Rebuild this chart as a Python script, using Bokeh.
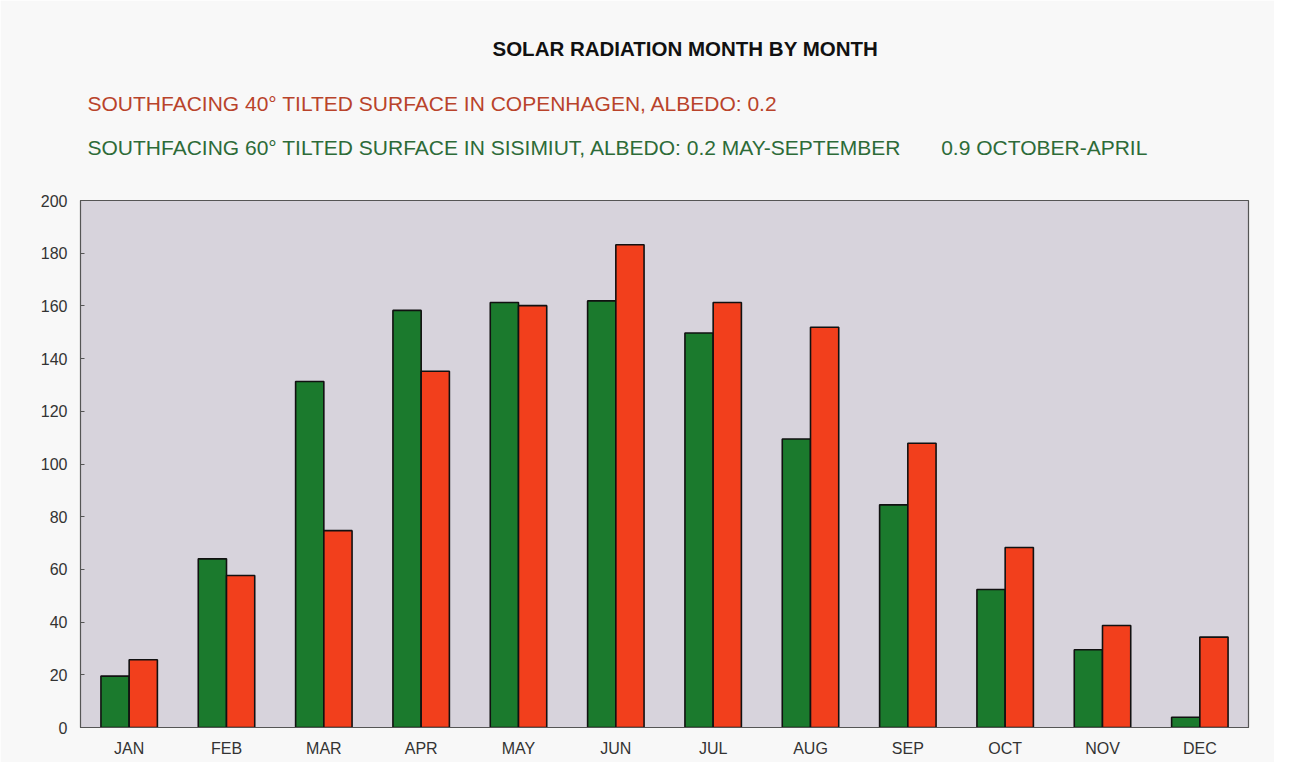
from bokeh.plotting import figure
from bokeh.models import ColumnDataSource, Title, FactorRange, SingleIntervalTicker
from bokeh.transform import dodge
from bokeh.embed import file_html
from bokeh.resources import INLINE

months = ["JAN", "FEB", "MAR", "APR", "MAY", "JUN", "JUL", "AUG", "SEP", "OCT", "NOV", "DEC"]
sisimiut = [19.5, 64.0, 131.3, 158.3, 161.3, 161.9, 149.7, 109.5, 84.5, 52.4, 29.5, 3.9]
copenhagen = [25.7, 57.7, 74.7, 135.2, 160.1, 183.2, 161.3, 151.9, 107.9, 68.3, 38.7, 34.3]

title_text = "SOLAR RADIATION MONTH BY MONTH"
sub1_text = "SOUTHFACING 40\u00b0 TILTED SURFACE IN COPENHAGEN, ALBEDO: 0.2"
sub2_text = "SOUTHFACING 60\u00b0 TILTED SURFACE IN SISIMIUT, ALBEDO: 0.2 MAY-SEPTEMBER"
sub3_text = "0.9 OCTOBER-APRIL"

FONT = "Liberation Sans"

source = ColumnDataSource(data=dict(month=months, sis=sisimiut, cph=copenhagen))

p = figure(
    x_range=FactorRange(*months, range_padding=0),
    y_range=(0, 200),
    width=1274, height=762,
    output_backend="svg", toolbar_location=None,
    min_border_left=80, min_border_right=26, min_border_top=200, min_border_bottom=35,
)
p.title.visible = False
p.background_fill_color = "#d7d3dc"
p.border_fill_color = "#f8f8f8"
p.outline_line_color = "#555555"
p.outline_line_width = 1.2
p.xgrid.grid_line_color = None
p.ygrid.grid_line_color = None

p.vbar(x=dodge("month", -0.145, range=p.x_range), top="sis", width=0.29, source=source,
       fill_color="#1b7a2d", line_color="#111111", line_width=1.6)
p.vbar(x=dodge("month", 0.145, range=p.x_range), top="cph", width=0.29, source=source,
       fill_color="#f23f1c", line_color="#111111", line_width=1.6)

p.yaxis.ticker = SingleIntervalTicker(interval=20)
p.yaxis.minor_tick_line_color = None
p.yaxis.major_tick_in = 4
p.yaxis.major_tick_out = 0
p.yaxis.major_tick_line_color = "#555555"
p.yaxis.axis_line_color = "#555555"
p.yaxis.major_label_text_font = FONT
p.yaxis.major_label_text_font_size = "16px"
p.yaxis.major_label_text_color = "#333333"
p.yaxis.major_label_standoff = 9

p.xaxis.major_tick_line_color = None
p.xaxis.major_tick_in = 0
p.xaxis.major_tick_out = 0
p.xaxis.minor_tick_line_color = None
p.xaxis.axis_line_color = "#555555"
p.xaxis.major_label_text_font = FONT
p.xaxis.major_label_text_font_size = "16px"
p.xaxis.major_label_text_color = "#333333"
p.xaxis.major_label_standoff = 12

gap = "\u00a0" * 7
# stacked from the frame outwards: spacer, second subtitle, first subtitle, main title
p.add_layout(Title(text=" ", align="left", offset=0, standoff=24,
                   text_font=FONT, text_font_size="10px", text_color="#f8f8f8"), "above")
p.add_layout(Title(text=sub2_text + gap + sub3_text, align="left", offset=7, standoff=10,
                   text_font=FONT, text_font_size="21px", text_font_style="normal",
                   text_color="#2d6b38"), "above")
p.add_layout(Title(text=sub1_text, align="left", offset=7, standoff=27,
                   text_font=FONT, text_font_size="21px", text_font_style="normal",
                   text_color="#b9432b"), "above")
p.add_layout(Title(text=title_text, align="left", offset=412, standoff=33,
                   text_font=FONT, text_font_size="20.5px", text_font_style="bold",
                   text_color="#111111"), "above")

open("out.html", "w").write(file_html(p, INLINE))
